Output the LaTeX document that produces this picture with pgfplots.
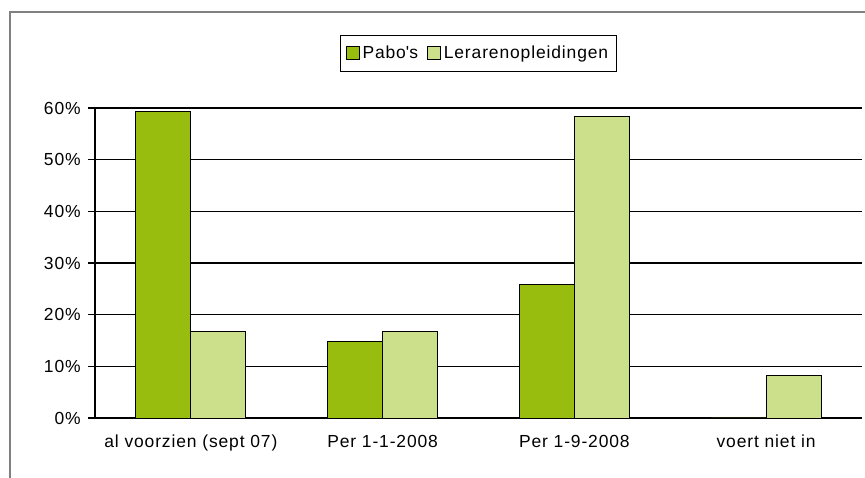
\documentclass[border=0pt]{standalone}
\usepackage{fontspec}
\setmainfont{Liberation Sans}[LetterSpace=5]
\usepackage{pgfplots}
\pgfplotsset{compat=1.18}
\definecolor{pabo}{RGB}{152,189,14}
\definecolor{lera}{RGB}{204,224,140}
\definecolor{frame}{RGB}{128,128,128}
\begin{document}
\begin{tikzpicture}
\useasboundingbox (0,0) rectangle (648.75pt,358.5pt);
\clip (0,0) rectangle (648.75pt,358.5pt);
\draw[frame, line width=1.1pt] (7.5pt,-20pt) |- (700pt,349.5pt);
\begin{axis}[
  at={(71.25pt,45pt)}, anchor=south west,
  scale only axis, width=575.25pt, height=232.5pt,
  xmin=-0.5, xmax=3.5, ymin=0, ymax=60,
  ybar=0pt, bar width=0.2865,
  axis x line*=bottom, axis y line*=left,
  axis line style={black, line width=0.8pt},
  ymajorgrids, grid style={black, line width=0.8pt},
  ytick={0,10,20,30,40,50,60},
  yticklabels={0\%,10\%,20\%,30\%,40\%,50\%,60\%},
  xtick={0,1,2,3},
  xticklabels={al voorzien (sept 07),Per 1-1-2008,Per 1-9-2008,voert niet in},
  major x tick style={draw=none},
  extra x ticks={-0.5,0.5,1.5,2.5,3.5},
  extra x tick labels={},
  extra x tick style={major tick length=4.5pt, tick style={black, line width=0.8pt}},
  tick align=outside,
  major tick length=5.25pt,
  y tick style={black, line width=0.8pt},
  tick label style={font=\fontsize{13.1}{15}\selectfont, black},
  yticklabel style={xshift=-2pt},
  xticklabel style={yshift=-4pt},
  legend columns=2,
  legend style={at={(0.5,1.177)}, anchor=center, draw=black, line width=0.8pt,
    font=\fontsize{13.1}{15}\selectfont, inner xsep=4pt, inner ysep=6pt,
    /tikz/every even column/.append style={column sep=5pt}},
  legend cell align=left,
  legend image code/.code={\draw[#1, draw=black, line width=0.6pt] (0pt,-4.9pt) rectangle (9.75pt,4.9pt);},
]
\addplot[fill=pabo, draw=black, line width=0.7pt] coordinates {(0,59.3) (1,14.8) (2,25.9) (3,0)};
\addplot[fill=lera, draw=black, line width=0.7pt] coordinates {(0,16.7) (1,16.7) (2,58.3) (3,8.3)};
\legend{Pabo\textquotesingle s,Lerarenopleidingen}
\end{axis}
\end{tikzpicture}
\end{document}
